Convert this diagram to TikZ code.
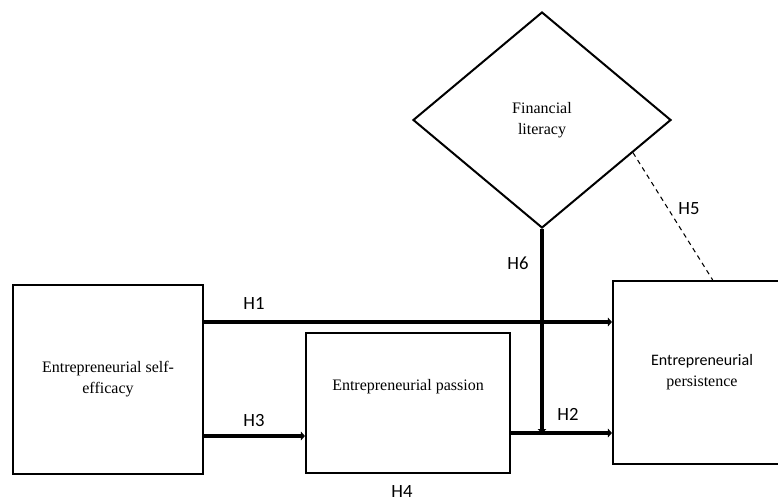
\documentclass[tikz,border=0pt]{standalone}
\usepackage{fontspec}
\setmainfont{Liberation Serif}
\newfontfamily\calibri{Carlito}
\usepackage{tikz}
\usetikzlibrary{shapes.geometric,arrows.meta,calc}
\tikzset{
  construct/.style = {draw, rectangle, line width=1.6pt, inner sep=0pt, align=center,
                      font=\fontsize{12}{15.75}\selectfont},
  moderator/.style = {draw, diamond, line width=1.5pt, inner sep=0pt, align=center,
                      font=\fontsize{12}{15.75}\selectfont},
  path arrow/.style = {line width=3pt, -{Triangle[length=3pt,width=6.5pt]}},
  hyp/.style = {font=\calibri\fontsize{14}{16}\selectfont}
}

\begin{document}
\begin{tikzpicture}[x=0.75pt,y=-0.75pt]

  \useasboundingbox (0,0) rectangle (778,502);
  \clip (0,0) rectangle (778,502);

  % constructs
  \node[construct, minimum width=142.5pt, minimum height=141.75pt] (ese) at (108,379.5)
    {Entrepreneurial self-\\efficacy};
  \node[construct, minimum width=153pt, minimum height=105pt,
        label={[font=\fontsize{12}{15.75}\selectfont, yshift=12pt]center:Entrepreneurial passion}] (ep) at (408,403) {};
  \node[construct, minimum width=133.5pt, minimum height=137.25pt] (eper) at (702,372.5)
    {{\calibri Entrepreneurial}\\persistence};
  \node[moderator, minimum width=193.5pt, minimum height=162pt] (fl) at (542,120)
    {Financial\\literacy};

  % paths
  \draw[path arrow] (ese.east |- 0,322) -- (eper.west |- 0,322);
  \draw[path arrow] (ese.east |- 0,436) -- (ep.west |- 0,436);
  \draw[path arrow] (ep.east |- 0,433) -- (eper.west |- 0,433);
  \draw[path arrow] (fl.south) -- (fl.south |- 0,433);
  \draw[dashed, line width=0.8pt, dash pattern=on 3.5pt off 3pt]
    ($(fl.east)!0.3!(fl.south)$) -- ([xshift=8pt]eper.north);

  \node[hyp] (h1) at (254,303) {H1};
  \node[hyp] (h2) at (568,414) {H2};
  \node[hyp] (h3) at (254,421) {H3};
  \node[hyp] (h4) at (402,492) {H4};
  \node[hyp] (h5) at (689,209) {H5};
  \node[hyp] (h6) at (518,263) {H6};
\end{tikzpicture}
\end{document}
